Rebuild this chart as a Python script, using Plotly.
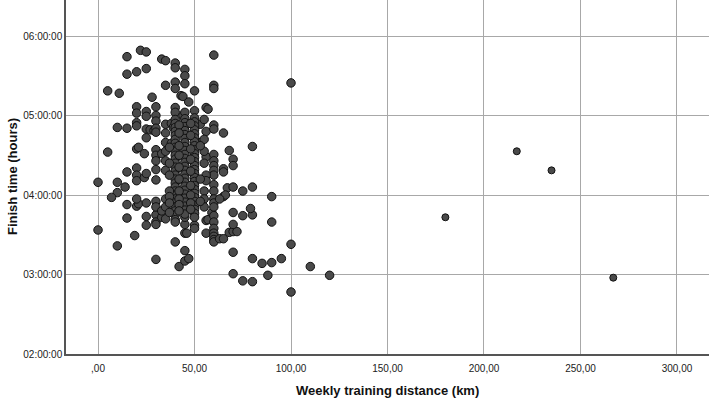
import plotly.graph_objects as go

# Sparse points (weekly km, finish time in hours)
sparse_km = [22,25,15,20,15,25,5,11,33,35,40,40,45,45,60,35,40,40,45,60,60,43,44,28,50,47,100,
             20,20,25,25,30,30,40,40,44,45,50,56,57,
             10,15,20,20,25,27,25,29,30,30,30,35,35,38,39,
             53,53,56,60,60,65,
             5,20,21,24,30,30,30,33,35,35,35,38,
             56,60,60,60,60,60,65,65,68,70,70,80,
             0,10,15,20,20,20,24,25,30,30,35,
             10,14,56,56,60,60,67,70,75,80,90,
             0,10,19,15,15,20,21,25,25,30,30,30,30,33,35,40,42,45,45,47,45,46,45,45,50,50,56,57,56,59,
             60,60,60,60,60,60,60,63,65,68,70,72,70,70,70,75,80,79,90,100,
             70,75,80,85,88,90,95,110,120,100,80,
             217,235,180,267,
             65,66,60,60,60,63,20,25,30,30,33,35,35,7]
sparse_hours = [5.82,5.80,5.74,5.55,5.52,5.59,5.31,5.28,5.71,5.69,5.66,5.60,5.58,5.50,5.76,5.38,5.42,5.34,5.40,5.38,5.34,5.25,5.24,5.23,5.31,5.17,5.41,
                5.11,5.03,5.05,4.99,5.11,5.00,5.10,5.04,5.00,5.04,5.06,5.10,5.08,
                4.85,4.84,4.91,4.87,4.83,4.82,4.72,4.81,4.93,4.84,4.79,4.89,4.78,4.90,4.85,
                4.89,4.66,4.80,4.88,4.83,4.78,
                4.54,4.58,4.60,4.52,4.57,4.50,4.43,4.52,4.66,4.55,4.43,4.65,
                4.48,4.51,4.43,4.37,4.31,4.25,4.33,4.29,4.56,4.45,4.37,4.61,
                4.16,4.16,4.29,4.34,4.25,4.18,4.22,4.27,4.32,4.19,4.31,
                4.03,4.10,4.25,4.18,4.13,4.05,4.09,4.10,4.05,4.10,3.98,
                3.56,3.36,3.49,3.88,3.71,3.86,3.89,3.73,3.62,3.75,3.66,3.63,3.19,3.72,3.70,3.41,3.10,3.30,3.17,3.20,3.52,3.52,3.63,3.72,3.62,3.58,3.68,3.69,3.52,3.78,
                3.74,3.66,3.58,3.52,3.48,3.44,3.41,3.45,3.45,3.53,3.54,3.54,3.63,3.78,3.28,3.74,3.75,3.83,3.66,3.38,
                3.01,2.92,2.91,3.14,2.99,3.15,3.20,3.10,2.99,2.78,3.20,
                4.55,4.31,3.72,2.96,
                3.98,4.00,3.95,3.90,3.85,3.95,3.95,3.90,3.92,3.85,3.80,3.95,3.85,3.97]

# Dense stacks at common training distances
km40_hours = [4.95,4.90,4.85,4.80,4.75,4.70,4.65,4.60,4.55,4.50,4.45,4.40,4.35,4.30,4.25,4.20,4.15,4.10,4.05,4.00,3.95,3.90,3.85,3.80,3.75,3.69,3.66]
km45_hours = [4.96,4.91,4.86,4.81,4.76,4.71,4.66,4.61,4.56,4.51,4.46,4.41,4.36,4.31,4.26,4.21,4.16,4.11,4.06,4.01,3.96,3.91,3.86,3.81,3.76]
km50_hours = [4.97,4.92,4.87,4.82,4.77,4.72,4.67,4.62,4.57,4.52,4.47,4.42,4.37,4.32,4.27,4.22,4.17,4.12,4.07,4.02,3.97,3.92,3.87,3.82,3.77,3.72]
km42_hours = [4.88,4.78,4.62,4.50,4.35,4.20,4.05,3.95,3.88,3.80]
km48_hours = [4.90,4.75,4.58,4.45,4.30,4.12,4.00,3.90,3.82]
km37_hours = [4.60,4.40,4.25,4.05,3.98,3.90,3.78]
km55_hours = [4.95,4.70,4.55,4.40,4.05,3.95,3.85]
km53_hours = [4.62,4.20,3.92]

x_tick_vals = [0, 50, 100, 150, 200, 250, 300]
x_tick_text = [",00", "50,00", "100,00", "150,00", "200,00", "250,00", "300,00"]
y_tick_vals = [2, 3, 4, 5, 6]
y_tick_text = ["02:00:00", "03:00:00", "04:00:00", "05:00:00", "06:00:00"]

stacks = [(40, km40_hours), (45, km45_hours), (50, km50_hours), (42, km42_hours),
          (48, km48_hours), (37, km37_hours), (55, km55_hours), (53, km53_hours)]
all_x = list(sparse_km)
all_y = list(sparse_hours)
for km, hrs in stacks:
    all_x += [km] * len(hrs)
    all_y += hrs

# the far-right outliers are drawn slightly smaller in the reference
marker_sizes = [7 if km > 150 else 8.5 for km in all_x]

fig = go.Figure()
fig.add_trace(go.Scatter(
    x=all_x, y=all_y, mode="markers",
    marker=dict(size=marker_sizes, opacity=1, color="#4a4a4a",
                line=dict(color="#111111", width=1)),
    showlegend=False, hoverinfo="skip"))

font_family = "Liberation Sans, Arial, sans-serif"
fig.update_layout(
    width=709, height=398,
    margin=dict(l=66, r=0, t=0, b=44),
    paper_bgcolor="white", plot_bgcolor="white",
    font=dict(family=font_family, color="#222222", size=10),
    xaxis=dict(range=[-16.6, 316.6], tickvals=x_tick_vals, ticktext=x_tick_text,
               showgrid=True, gridcolor="#a8a8a8", gridwidth=1,
               showline=True, linecolor="#555555", linewidth=1.5,
               zeroline=False, ticks="", tickfont=dict(size=10, color="#222222"),
               ticklabelstandoff=4),
    yaxis=dict(range=[2.0, 6.453], tickvals=y_tick_vals, ticktext=y_tick_text,
               showgrid=True, gridcolor="#a8a8a8", gridwidth=1,
               showline=True, linecolor="#555555", linewidth=1.5,
               zeroline=False, ticks="", tickfont=dict(size=10, color="#222222")),
    annotations=[
        dict(text="<b>Weekly training distance (km)</b>", xref="paper", yref="paper",
             x=0.5, y=0, yshift=-36, xanchor="center", yanchor="middle",
             showarrow=False, font=dict(size=13, color="#111111")),
        dict(text="<b>Finish time (hours)</b>", xref="paper", yref="paper",
             x=0, y=0.5, xshift=-54, xanchor="center", yanchor="middle", textangle=-90,
             showarrow=False, font=dict(size=13, color="#111111")),
    ],
)

fig.write_html("out.html", config={"displayModeBar": False},
               post_script="document.body.style.margin='0';")
